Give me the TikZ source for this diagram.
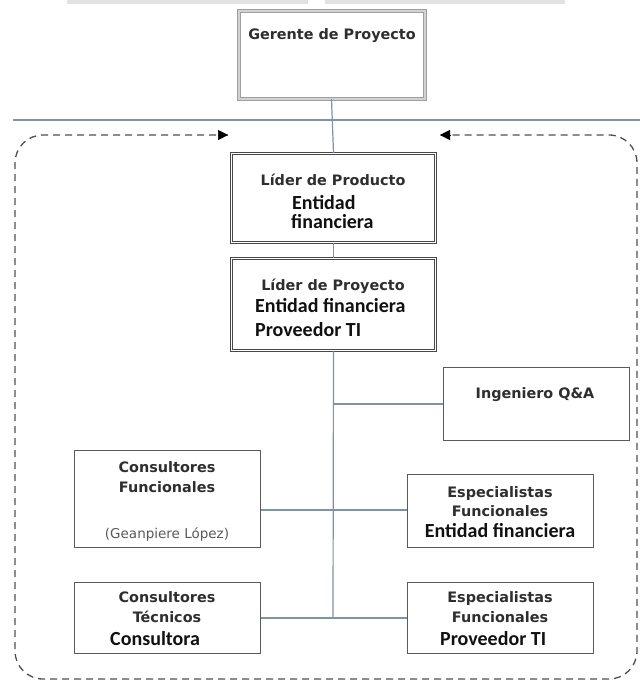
\documentclass[tikz,border=0pt]{standalone}
\usepackage{fontspec}
\setmainfont{DejaVu Sans}
\newfontfamily\headfont{DejaVu Sans}
\newfontfamily\bodyfont{Carlito}
\usetikzlibrary{arrows.meta}

\definecolor{boxline}{HTML}{5A5A5A}
\definecolor{linkline}{HTML}{7F92A6}
\definecolor{headgray}{HTML}{2E2E2E}
\definecolor{bodyink}{HTML}{111111}
\definecolor{bandgray}{HTML}{E2E2E2}
\definecolor{dashgray}{HTML}{505050}

\tikzset{
  box/.style={draw=boxline, line width=1.1pt, fill=white, inner sep=0pt, anchor=north west},
  dblbox/.style={draw=boxline!80!black, line width=1pt, double=white, double distance=1.3pt,
                 fill=white, inner sep=0pt, anchor=north west},
  topbox/.style={draw=gray!75, line width=1pt, double=gray!35, double distance=2pt,
                 fill=white, inner sep=0pt, anchor=north west},
  head/.style={font=\headfont\bfseries\fontsize{14.4}{17}\selectfont, text=headgray,
               inner sep=0pt, anchor=base},
  body/.style={font=\bodyfont\bfseries\fontsize{20}{24}\selectfont, text=bodyink,
               inner sep=0pt, anchor=base west},
  note/.style={font=\headfont\fontsize{13.5}{16}\selectfont, text=gray!70!black,
               inner sep=0pt, anchor=base},
  link/.style={draw=linkline, line width=1.2pt},
  frame/.style={draw=dashgray, line width=1.3pt, dash pattern=on 7pt off 5pt,
                rounded corners=28pt},
  tiphead/.style={draw=black, fill=black, line width=0.5pt, solid,
                  -{Triangle[length=10pt,width=10pt]}}
}

\begin{document}
\begin{tikzpicture}[x=1pt,y=-1pt]
\useasboundingbox[fill=white] (0,0) rectangle (640,686);

% header band
\fill[bandgray] (67,0) rectangle (308,3.5);
\fill[bandgray] (325,0) rectangle (565,3.5);

% team boundary, open at the top between the two arrow heads
\coordinate (fl) at (228,135);
\coordinate (fr) at (440,135);
\draw[frame] (fl) -- (15,135) -- (15,679) -- (637,679) -- (637,135) -- (fr);
\draw[tiphead] ([xshift=-10pt]fl) -- (fl);
\draw[tiphead] ([xshift=10pt]fr) -- (fr);

% boxes
\node[topbox, minimum width=186pt, minimum height=88pt] (ger)   at (238,10)  {};
\node[dblbox, minimum width=204pt, minimum height=89pt] (lprod) at (231,153) {};
\node[dblbox, minimum width=204pt, minimum height=92pt] (lproy) at (231,258) {};
\node[box, minimum width=186pt, minimum height=73pt]    (qa)    at (443,367) {};
\node[box, minimum width=186pt, minimum height=97pt]    (cfun)  at (74,450)  {};
\node[box, minimum width=186pt, minimum height=73pt]    (efent) at (407,474) {};
\node[box, minimum width=186pt, minimum height=71pt]    (ctec)  at (74,582)  {};
\node[box, minimum width=186pt, minimum height=71pt]    (efprov) at (407,582) {};

% junctions on the main line
\coordinate (jqa)  at (333,404);
\coordinate (jmid) at (333,510);
\coordinate (jbot) at (333,618);
\coordinate (hl) at (13,120);
\coordinate (hr) at (640,120);

% connectors
\draw[link] (hl) -- (hr);
\draw[link] (ger.south) -- (lprod.north);
\draw[link] (lprod.south) -- (lproy.north);
\draw[link] (lproy.south) -- (jbot);
\draw[link] (jqa) -- (qa.west |- jqa);
\draw[link] (cfun.east |- jmid) -- (efent.west |- jmid);
\draw[link] (ctec.east |- jbot) -- (efprov.west |- jbot);

% texts
\node[head] (tger) at (332,39) {Gerente de Proyecto};

\node[head] (tlprod) at (333,185) {Líder de Producto};
\node[body] (tlprod2) at (292,209) {Entidad};
\node[body] (tlprod3) at (291,228) {financiera};

\node[head] (tlproy) at (333,290) {Líder de Proyecto};
\node[body] (tlproy2) at (255,312) {Entidad financiera};
\node[body] (tlproy3) at (255,336) {Proveedor TI};

\node[head] (tqa) at (535,398) {Ingeniero Q\&A};

\node[head] (tcf1) at (167,472) {Consultores};
\node[head] (tcf2) at (167,492) {Funcionales};
\node[note] (tcf3) at (167,538) {(Geanpiere López)};

\node[head] (tef1) at (500,497) {Especialistas};
\node[head] (tef2) at (500,516) {Funcionales};
\node[body, anchor=base] (tef3) at (500,537) {Entidad financiera};

\node[head] (tct1) at (167,602) {Consultores};
\node[head] (tct2) at (167,622) {Técnicos};
\node[body] (tct3) at (110,645) {Consultora};

\node[head] (tep1) at (500,602) {Especialistas};
\node[head] (tep2) at (500,622) {Funcionales};
\node[body] (tep3) at (440,645) {Proveedor TI};
\end{tikzpicture}
\end{document}
